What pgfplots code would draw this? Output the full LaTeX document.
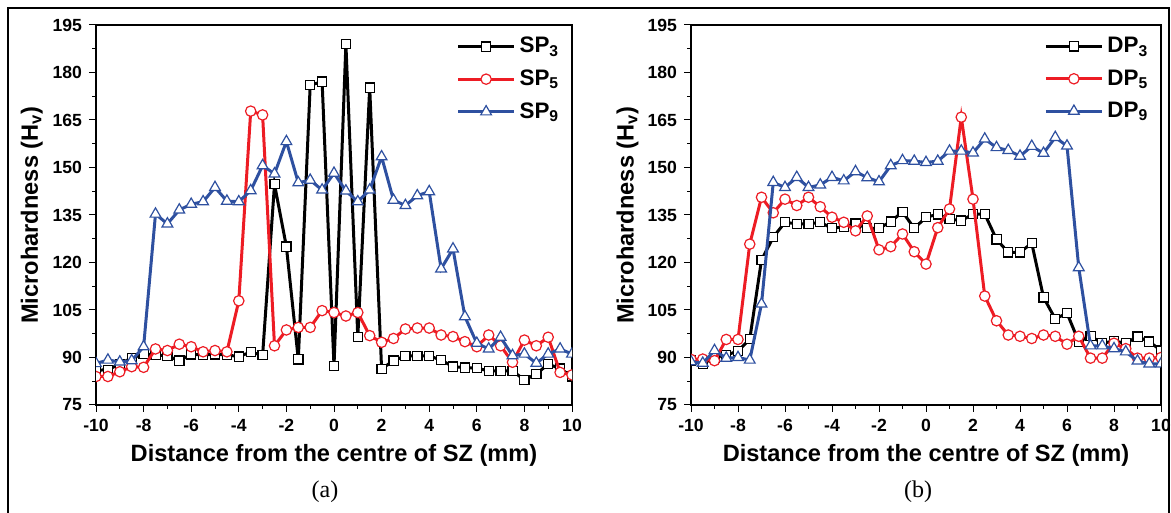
\documentclass[border=0pt]{standalone}
\usepackage{fontspec}
\setmainfont{Liberation Serif}
\setsansfont{Liberation Sans}
\usepackage{pgfplots}
\pgfplotsset{compat=1.18}
\usepackage{pgfplotstable}

\definecolor{cred}{RGB}{237,28,36}
\definecolor{cblue}{RGB}{46,80,160}

% x = distance (mm), y = microhardness (Hv)
\pgfplotstableread{
x y
-10 86
-9.5 86.1
-9 88
-8.5 89.8
-8 91.1
-7.5 90.8
-7 90.5
-6.5 89
-6 91
-5.5 90.8
-5 91
-4.5 90.8
-4 90.3
-3.5 91.7
-3 90.7
-2.5 144.7
-2 125
-1.5 89.4
-1 176
-0.5 177.1
0 87.3
0.5 189
1 96.4
1.5 175.2
2 86.4
2.5 89
3 90.5
3.5 90.5
4 90.5
4.5 89.2
5 87.1
5.5 86.8
6 86.6
6.5 85.8
7 85.8
7.5 85.8
8 82.9
8.5 84.8
9 87.9
9.5 86.5
10 84
}\spthree

\pgfplotstableread{
x y
-10 84
-9.5 84
-9 85.5
-8.5 87.1
-8 86.9
-7.5 92.7
-7 92.2
-6.5 94.2
-6 93.4
-5.5 91.8
-5 92.2
-4.5 91.8
-4 107.9
-3.5 167.8
-3 166.6
-2.5 93.7
-2 98.7
-1.5 99.5
-1 99.5
-0.5 104.8
0 104.2
0.5 103.1
1 104.2
1.5 96.9
2 94.8
2.5 96
3 99
3.5 99.3
4 99.3
4.5 97.1
5 96.6
5.5 95
6 93.4
6.5 97.1
7 93.7
7.5 88.5
8 95.5
8.5 93.7
9 96.4
9.5 85.3
10 84.5
}\spfive

\pgfplotstableread{
x y
-10 88.1
-9.5 89.2
-9 88.6
-8.5 89
-8 93.4
-7.5 135.3
-7 132.2
-6.5 136.6
-6 138.4
-5.5 139.2
-5 143.7
-4.5 139.4
-4 139.2
-3.5 142.7
-3 150.6
-2.5 148
-2 158.2
-1.5 145.2
-1 146
-0.5 142.9
0 148.2
0.5 142.6
1 139.2
1.5 142.9
2 153.4
2.5 139.7
3 138
3.5 141.1
4 142.4
4.5 118
5 124.3
5.5 102.9
6 94.5
6.5 92.7
7 96.4
7.5 90.6
8 91.1
8.5 88.2
9 91.1
9.5 92.7
10 91.1
}\spnine

\pgfplotstableread{
x y
-10 89
-9.5 88
-9 90
-8.5 90.8
-8 92
-7.5 95.8
-7 120.8
-6.5 128
-6 132.7
-5.5 132.2
-5 132.2
-4.5 132.7
-4 130.8
-3.5 131.3
-3 132.3
-2.5 130.8
-2 130.8
-1.5 132.9
-1 136
-0.5 130.8
0 134.3
0.5 135.2
1 133.7
1.5 133.2
2 135.3
2.5 135.3
3 127.3
3.5 123.2
4 123.2
4.5 126.1
5 109
5.5 102.2
6 104
6.5 95
7 96.8
7.5 94.5
8 95.2
8.5 94.5
9 96.6
9.5 95
10 92.2
}\dpthree

\pgfplotstableread{
x y
-10 89.4
-9.5 89.5
-9 89
-8.5 95.7
-8 95.7
-7.5 125.8
-7 140.6
-6.5 135.7
-6 140
-5.5 138
-5 140.6
-4.5 137.6
-4 134.3
-3.5 132.7
-3 130
-2.5 134.7
-2 124
-1.5 125
-1 129
-0.5 123.4
0 119.5
0.5 131
1 136.9
1.5 165.9
2 140
2.5 109.4
3 101.6
3.5 97.1
4 96.7
4.5 96
5 97.1
5.5 96.7
6 94.2
6.5 96.7
7 89.8
7.5 89.8
8 94.5
8.5 92.8
9 89.8
9.5 89.8
10 90
}\dpfive

\pgfplotstableread{
x y
-10 88.7
-9.5 88.2
-9 92.2
-8.5 89.8
-8 90
-7.5 89.2
-7 106.9
-6.5 145.3
-6 143.7
-5.5 146.9
-5 143.7
-4.5 144.5
-4 146.9
-3.5 145.8
-3 148.7
-2.5 146.8
-2 145.5
-1.5 150.6
-1 152.2
-0.5 152
0 151.6
0.5 152
1 155.2
1.5 155.2
2 154.6
2.5 159
3 156.3
3.5 155.4
4 153.6
4.5 156.7
5 154.5
5.5 159.5
6 156.8
6.5 118.4
7 93.7
7.5 93.7
8 92.8
8.5 91.8
9 88.9
9.5 88
10 88
}\dpnine

\pgfplotsset{
  hard/.style={
    scale only axis, height=190pt,
    xmin=-10, xmax=10, ymin=75, ymax=195,
    xtick={-10,-8,...,10}, xticklabels={-10,-8,-6,-4,-2,0,2,4,6,8,10},
    ytick={75,90,...,195}, yticklabels={75,90,105,120,135,150,165,180,195},
    minor x tick num=1, minor y tick num=1,
    tick align=outside, tick pos=left,
    major tick length=3.5pt, minor tick length=2pt,
    every tick/.style={black, line width=0.5pt},
    axis line style={line width=0.6pt},
    ticklabel style={font=\sffamily\bfseries\fontsize{8.8}{10}\selectfont},
    label style={font=\sffamily\bfseries\fontsize{11.8}{13}\selectfont},
    xlabel={Distance from the centre of SZ (mm)},
    ylabel={Microhardness (H\textsubscript{v})},
    xlabel style={at={(axis description cs:0.5,-0.1316)}, anchor=center},
    ylabel style={at={(axis description cs:-0.135,0.5)}, anchor=center},
    legend style={draw=none, fill=none, at={(axis description cs:0.995,0.99)},
      anchor=north east, font=\sffamily\bfseries\fontsize{11.2}{12}\selectfont,
      row sep=3pt},
    legend cell align=left,
    legend image code/.code={\draw[mark repeat=2,mark phase=2,#1] plot coordinates {(0pt,0pt) (14pt,0pt) (28pt,0pt)};},
    clip marker paths=true,
  },
  s3/.style={black, line width=1.5pt, mark=square*, mark size=2.3pt,
    mark options={fill=white, line width=0.6pt, solid}},
  s5/.style={cred, line width=1.5pt, mark=*, mark size=2.6pt,
    mark options={fill=white, line width=0.6pt, solid}},
  s9/.style={cblue, line width=1.5pt, mark=triangle*, mark size=3.1pt,
    mark options={fill=white, line width=0.6pt, solid}},
}

\begin{document}
\begin{tikzpicture}
\useasboundingbox (0,0) rectangle (585.5pt,256.5pt);
\draw[line width=0.75pt] (4pt,-1pt) -- (4pt,252.5pt) -- (584.5pt,252.5pt) -- (584.5pt,-1pt);

\begin{axis}[hard, width=238pt, at={(48pt,54pt)}, anchor=south west]
\addplot[s3] table[x=x,y=y] {\spthree};
\addlegendentry{SP\textsubscript{3}}
\addplot[s5] table[x=x,y=y] {\spfive};
\addlegendentry{SP\textsubscript{5}}
\addplot[s9] table[x=x,y=y] {\spnine};
\addlegendentry{SP\textsubscript{9}}
\end{axis}

\begin{axis}[hard, width=235pt, at={(345.5pt,54pt)}, anchor=south west]
\addplot[s3] table[x=x,y=y] {\dpthree};
\addlegendentry{DP\textsubscript{3}}
\addplot[s5] table[x=x,y=y] {\dpfive};
\addlegendentry{DP\textsubscript{5}}
\addplot[s9] table[x=x,y=y] {\dpnine};
\addlegendentry{DP\textsubscript{9}}
\end{axis}

\node[font=\rmfamily\fontsize{12}{14}\selectfont] at (162.5pt,10.5pt) {(a)};
\node[font=\rmfamily\fontsize{12}{14}\selectfont] at (459pt,10.5pt) {(b)};
\end{tikzpicture}
\end{document}
